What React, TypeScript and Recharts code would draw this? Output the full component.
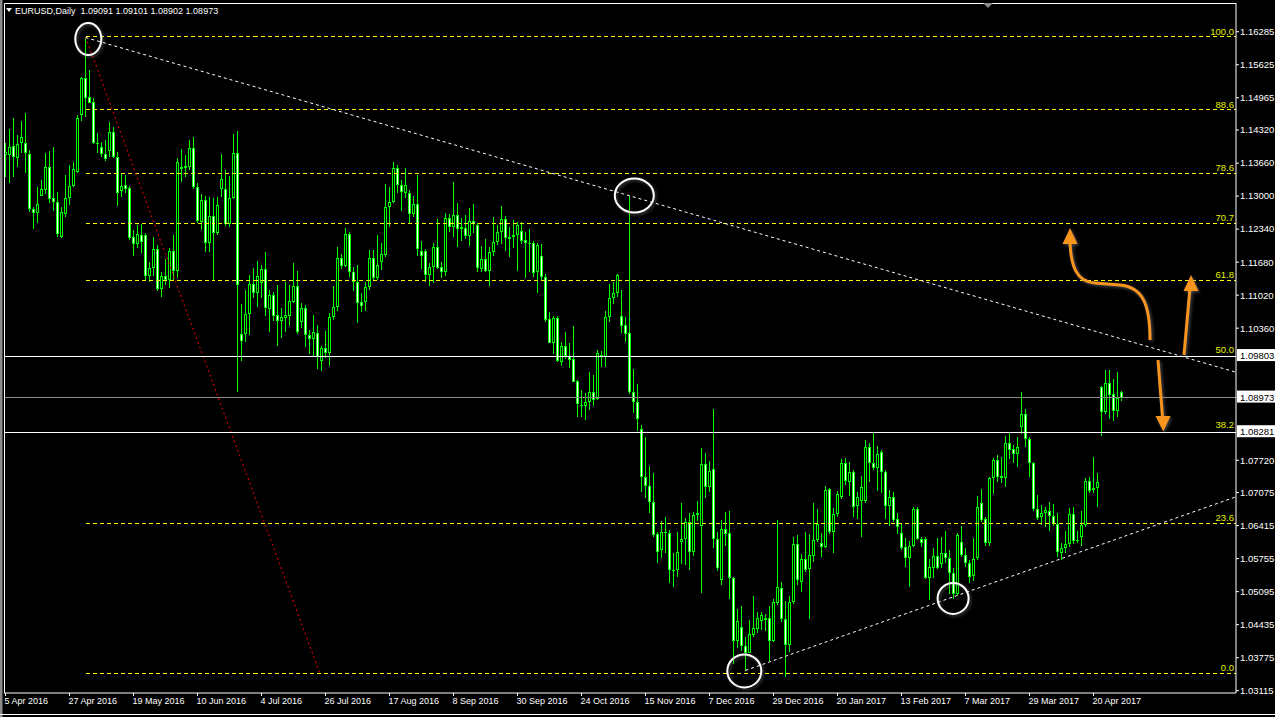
import React from 'react';
import { ComposedChart, Bar, XAxis, YAxis, ReferenceLine, ReferenceDot } from 'recharts';

// EURUSD daily bars, 5 Apr 2016 .. 1 May 2017 (bar index 1 = 5 Apr 2016)
const OPEN = [
  1.1383, 1.1383, 1.1400, 1.1377, 1.1406, 1.1406, 1.1384, 1.1274, 1.1266, 1.1301,
  1.1313, 1.1358, 1.1296, 1.1288, 1.1218, 1.1264, 1.1296, 1.1321, 1.1349, 1.1462,
  1.1536, 1.1498, 1.1488, 1.1406, 1.1399, 1.1384, 1.1390, 1.1428, 1.1379, 1.1311,
  1.1322, 1.1317, 1.1219, 1.1204, 1.1222, 1.1222, 1.1141, 1.1156, 1.1194, 1.1114,
  1.1140, 1.1132, 1.1190, 1.1151, 1.1358, 1.1356, 1.1359, 1.1396, 1.1318, 1.1249,
  1.1292, 1.1207, 1.1260, 1.1226, 1.1314, 1.1314, 1.1244, 1.1296, 1.1386, 1.1024,
  1.1024, 1.1064, 1.1124, 1.1107, 1.1126, 1.1154, 1.1074, 1.1102, 1.1062, 1.1051,
  1.1057, 1.1061, 1.1089, 1.1120, 1.1049, 1.1076, 1.1022, 1.1014, 1.1027, 1.0971,
  1.0996, 1.0986, 1.1058, 1.1078, 1.1176, 1.1161, 1.1224, 1.1149, 1.1129, 1.1088,
  1.1088, 1.1118, 1.1176, 1.1136, 1.1169, 1.1182, 1.1279, 1.1289, 1.1356, 1.1322,
  1.1306, 1.1306, 1.1264, 1.1284, 1.1190, 1.1190, 1.1142, 1.1159, 1.1198, 1.1158,
  1.1148, 1.1256, 1.1239, 1.1262, 1.1234, 1.1236, 1.1220, 1.1250, 1.1242, 1.1154,
  1.1174, 1.1151, 1.1189, 1.1208, 1.1229, 1.1254, 1.1218, 1.1218, 1.1222, 1.1230,
  1.1212, 1.1206, 1.1206, 1.1149, 1.1180, 1.1138, 1.1054, 1.1007, 1.1057, 1.0969,
  1.1000, 1.0981, 1.0974, 1.0930, 1.0882, 1.0881, 1.0888, 1.0908, 1.0894, 1.0982,
  1.0978, 1.1058, 1.1096, 1.1106, 1.1060, 1.1042, 1.1026, 1.0909, 1.0889, 1.0834,
  1.0738, 1.0721, 1.0689, 1.0624, 1.0592, 1.0628, 1.0626, 1.0552, 1.0552, 1.0608,
  1.0614, 1.0649, 1.0588, 1.0662, 1.0641, 1.0764, 1.0718, 1.0754, 1.0614, 1.0532,
  1.0634, 1.0626, 1.0536, 1.0411, 1.0438, 1.0401, 1.0387, 1.0422, 1.0434, 1.0451,
  1.0456, 1.0456, 1.0411, 1.0486, 1.0516, 1.0454, 1.0402, 1.0488, 1.0604, 1.0529,
  1.0574, 1.0554, 1.0580, 1.0612, 1.0606, 1.0599, 1.0714, 1.0629, 1.0664, 1.0699,
  1.0766, 1.0729, 1.0748, 1.0680, 1.0691, 1.0691, 1.0798, 1.0767, 1.0757, 1.0789,
  1.0749, 1.0681, 1.0698, 1.0654, 1.0627, 1.0599, 1.0576, 1.0600, 1.0674, 1.0614,
  1.0614, 1.0536, 1.0556, 1.0580, 1.0564, 1.0586, 1.0577, 1.0546, 1.0504, 1.0609,
  1.0582, 1.0566, 1.0540, 1.0576, 1.0686, 1.0654, 1.0607, 1.0736, 1.0772, 1.0736,
  1.0736, 1.0807, 1.0794, 1.0784, 1.0839, 1.0864, 1.0814, 1.0766, 1.0674, 1.0659,
  1.0667, 1.0671, 1.0661, 1.0644, 1.0587, 1.0596, 1.0604, 1.0664, 1.0612, 1.0619,
  1.0642, 1.0730, 1.0712, 1.0716, 1.0918, 1.0868, 1.0926, 1.0904, 1.0871, 1.09091,
];

const HIGH = [
  1.1406, 1.1434, 1.1456, 1.1422, 1.1450, 1.1466, 1.1392, 1.1279, 1.1319, 1.1332,
  1.1387, 1.1390, 1.1398, 1.1309, 1.1279, 1.1342, 1.1362, 1.1369, 1.1462, 1.1539,
  1.1616, 1.1552, 1.1496, 1.1426, 1.1409, 1.1412, 1.1449, 1.1438, 1.1389, 1.1346,
  1.1342, 1.1320, 1.1232, 1.1242, 1.1244, 1.1226, 1.1168, 1.1219, 1.1202, 1.1148,
  1.1174, 1.1196, 1.1222, 1.1376, 1.1394, 1.1382, 1.1412, 1.1419, 1.1326, 1.1304,
  1.1300, 1.1299, 1.1296, 1.1299, 1.1384, 1.1352, 1.1340, 1.1424, 1.1430, 1.1084,
  1.1112, 1.1142, 1.1156, 1.1170, 1.1162, 1.1189, 1.1112, 1.1109, 1.1122, 1.1076,
  1.1129, 1.1122, 1.1167, 1.1151, 1.1087, 1.1082, 1.1032, 1.1062, 1.1042, 1.1000,
  1.1030, 1.1066, 1.1120, 1.1199, 1.1184, 1.1236, 1.1229, 1.1159, 1.1162, 1.1106,
  1.1129, 1.1192, 1.1192, 1.1222, 1.1206, 1.1324, 1.1319, 1.1368, 1.1362, 1.1332,
  1.1356, 1.1312, 1.1300, 1.1342, 1.1211, 1.1194, 1.1167, 1.1206, 1.1254, 1.1169,
  1.1266, 1.1264, 1.1329, 1.1287, 1.1256, 1.1262, 1.1276, 1.1284, 1.1246, 1.1200,
  1.1214, 1.1199, 1.1259, 1.1242, 1.1280, 1.1260, 1.1239, 1.1252, 1.1249, 1.1248,
  1.1229, 1.1234, 1.1210, 1.1206, 1.1204, 1.1144, 1.1068, 1.1061, 1.1060, 1.1009,
  1.1028, 1.1006, 1.1040, 1.0932, 1.0912, 1.0906, 1.0948, 1.0942, 1.0992, 1.0991,
  1.1071, 1.1124, 1.1129, 1.1144, 1.1112, 1.1059, 1.1300, 1.0954, 1.0924, 1.0842,
  1.0819, 1.0760, 1.0747, 1.0629, 1.0651, 1.0658, 1.0632, 1.0586, 1.0628, 1.0687,
  1.0656, 1.0666, 1.0669, 1.0690, 1.0796, 1.0786, 1.0770, 1.0874, 1.0629, 1.0652,
  1.0669, 1.0670, 1.0539, 1.0474, 1.0480, 1.0418, 1.0452, 1.0500, 1.0468, 1.0468,
  1.0464, 1.0480, 1.0494, 1.0652, 1.0529, 1.0491, 1.0500, 1.0619, 1.0622, 1.0584,
  1.0629, 1.0624, 1.0687, 1.0674, 1.0626, 1.0720, 1.0717, 1.0676, 1.0711, 1.0774,
  1.0776, 1.0769, 1.0752, 1.0709, 1.0740, 1.0812, 1.0807, 1.0827, 1.0800, 1.0792,
  1.0752, 1.0712, 1.0709, 1.0667, 1.0646, 1.0616, 1.0610, 1.0679, 1.0678, 1.0619,
  1.0618, 1.0574, 1.0596, 1.0616, 1.0618, 1.0630, 1.0592, 1.0556, 1.0626, 1.0640,
  1.0596, 1.0572, 1.0616, 1.0700, 1.0714, 1.0659, 1.0739, 1.0776, 1.0782, 1.0778,
  1.0820, 1.0826, 1.0802, 1.0818, 1.0909, 1.0874, 1.0819, 1.0769, 1.0702, 1.0682,
  1.0679, 1.0689, 1.0684, 1.0666, 1.0606, 1.0630, 1.0676, 1.0679, 1.0630, 1.0670,
  1.0736, 1.0738, 1.0778, 1.0747, 1.0921, 1.0952, 1.0952, 1.0934, 1.0948, 1.09101,
];

const LOW = [
  1.1339, 1.1327, 1.1339, 1.1359, 1.1386, 1.1347, 1.1269, 1.1236, 1.1247, 1.1300,
  1.1306, 1.1286, 1.1270, 1.1219, 1.1217, 1.1259, 1.1282, 1.1319, 1.1346, 1.1452,
  1.1459, 1.1486, 1.1404, 1.1386, 1.1379, 1.1370, 1.1379, 1.1377, 1.1282, 1.1299,
  1.1306, 1.1212, 1.1181, 1.1197, 1.1187, 1.1132, 1.1129, 1.1142, 1.1110, 1.1098,
  1.1122, 1.1116, 1.1132, 1.1136, 1.1329, 1.1339, 1.1352, 1.1316, 1.1246, 1.1232,
  1.1189, 1.1189, 1.1132, 1.1224, 1.1299, 1.1240, 1.1238, 1.1294, 1.0909, 1.0971,
  1.1009, 1.1022, 1.1096, 1.1079, 1.1096, 1.1062, 1.1029, 1.1052, 1.1000, 1.1016,
  1.1029, 1.1041, 1.1087, 1.1026, 1.1037, 1.0999, 1.0984, 1.0979, 1.0954, 1.0951,
  1.0976, 1.0960, 1.1052, 1.1072, 1.1154, 1.1159, 1.1140, 1.1112, 1.1046, 1.1069,
  1.1072, 1.1112, 1.1132, 1.1132, 1.1152, 1.1179, 1.1240, 1.1286, 1.1306, 1.1270,
  1.1296, 1.1246, 1.1259, 1.1180, 1.1156, 1.1129, 1.1122, 1.1127, 1.1154, 1.1138,
  1.1140, 1.1229, 1.1220, 1.1199, 1.1211, 1.1214, 1.1200, 1.1226, 1.1149, 1.1149,
  1.1149, 1.1122, 1.1182, 1.1202, 1.1204, 1.1190, 1.1180, 1.1196, 1.1152, 1.1204,
  1.1137, 1.1149, 1.1139, 1.1106, 1.1132, 1.1049, 1.1006, 1.0986, 1.0969, 1.0962,
  1.0974, 1.0956, 1.0928, 1.0859, 1.0859, 1.0852, 1.0872, 1.0880, 1.0892, 1.0960,
  1.0959, 1.1049, 1.1086, 1.1099, 1.1027, 1.1009, 1.0905, 1.0866, 1.0831, 1.0709,
  1.0698, 1.0666, 1.0619, 1.0567, 1.0578, 1.0586, 1.0526, 1.0518, 1.0538, 1.0566,
  1.0563, 1.0552, 1.0582, 1.0650, 1.0506, 1.0696, 1.0709, 1.0596, 1.0552, 1.0522,
  1.0602, 1.0494, 1.0366, 1.0396, 1.0391, 1.0351, 1.0386, 1.0419, 1.0426, 1.0432,
  1.0431, 1.0371, 1.0409, 1.0482, 1.0449, 1.0339, 1.0389, 1.0486, 1.0522, 1.0509,
  1.0549, 1.0454, 1.0570, 1.0609, 1.0578, 1.0596, 1.0626, 1.0587, 1.0659, 1.0694,
  1.0722, 1.0702, 1.0658, 1.0656, 1.0619, 1.0687, 1.0729, 1.0754, 1.0710, 1.0706,
  1.0654, 1.0640, 1.0649, 1.0626, 1.0592, 1.0559, 1.0519, 1.0599, 1.0612, 1.0599,
  1.0534, 1.0492, 1.0536, 1.0554, 1.0556, 1.0566, 1.0504, 1.0494, 1.0502, 1.0579,
  1.0559, 1.0526, 1.0530, 1.0572, 1.0649, 1.0602, 1.0602, 1.0704, 1.0729, 1.0727,
  1.0718, 1.0774, 1.0766, 1.0759, 1.0826, 1.0798, 1.0739, 1.0671, 1.0652, 1.0642,
  1.0640, 1.0632, 1.0640, 1.0579, 1.0572, 1.0586, 1.0599, 1.0606, 1.0606, 1.0600,
  1.0639, 1.0707, 1.0707, 1.0680, 1.0821, 1.0865, 1.0854, 1.0851, 1.0858, 1.08902,
];

const CLOSE = [
  1.1388, 1.1398, 1.1379, 1.1404, 1.1418, 1.1386, 1.1274, 1.1266, 1.1284, 1.1314,
  1.1358, 1.1295, 1.1288, 1.1224, 1.1268, 1.1296, 1.1321, 1.1354, 1.1456, 1.1536,
  1.1497, 1.1487, 1.1406, 1.1404, 1.1384, 1.1374, 1.1428, 1.1379, 1.1306, 1.1320,
  1.1314, 1.1217, 1.1204, 1.1224, 1.1209, 1.1141, 1.1156, 1.1194, 1.1114, 1.1140,
  1.1132, 1.1190, 1.1150, 1.1368, 1.1354, 1.1360, 1.1396, 1.1318, 1.1251, 1.1292,
  1.1207, 1.1260, 1.1226, 1.1282, 1.1334, 1.1244, 1.1296, 1.1386, 1.1122, 1.1011,
  1.1064, 1.1124, 1.1107, 1.1140, 1.1154, 1.1076, 1.1102, 1.1061, 1.1051, 1.1058,
  1.1062, 1.1090, 1.1120, 1.1029, 1.1076, 1.1022, 1.1014, 1.1028, 1.0978, 1.0996,
  1.0986, 1.1058, 1.1078, 1.1176, 1.1161, 1.1224, 1.1149, 1.1129, 1.1086, 1.1081,
  1.1118, 1.1176, 1.1136, 1.1162, 1.1184, 1.1279, 1.1289, 1.1356, 1.1322, 1.1309,
  1.1322, 1.1264, 1.1284, 1.1194, 1.1181, 1.1142, 1.1159, 1.1198, 1.1156, 1.1148,
  1.1256, 1.1239, 1.1262, 1.1234, 1.1238, 1.1220, 1.1250, 1.1244, 1.1156, 1.1174,
  1.1151, 1.1189, 1.1208, 1.1228, 1.1254, 1.1216, 1.1214, 1.1222, 1.1242, 1.1211,
  1.1206, 1.1205, 1.1147, 1.1202, 1.1138, 1.1052, 1.1007, 1.1057, 1.0971, 1.1000,
  1.0981, 1.0972, 1.0929, 1.0884, 1.0881, 1.0888, 1.0908, 1.0892, 1.0986, 1.0979,
  1.1059, 1.1096, 1.1107, 1.1142, 1.1041, 1.1024, 1.0909, 1.0889, 1.0854, 1.0738,
  1.0721, 1.0689, 1.0622, 1.0588, 1.0628, 1.0626, 1.0552, 1.0551, 1.0588, 1.0614,
  1.0649, 1.0588, 1.0662, 1.0666, 1.0764, 1.0718, 1.0751, 1.0614, 1.0556, 1.0634,
  1.0624, 1.0536, 1.0411, 1.0450, 1.0401, 1.0387, 1.0424, 1.0436, 1.0456, 1.0462,
  1.0452, 1.0411, 1.0489, 1.0518, 1.0454, 1.0402, 1.0489, 1.0604, 1.0532, 1.0574,
  1.0552, 1.0582, 1.0612, 1.0644, 1.0599, 1.0712, 1.0628, 1.0664, 1.0704, 1.0766,
  1.0730, 1.0748, 1.0679, 1.0698, 1.0719, 1.0798, 1.0767, 1.0757, 1.0784, 1.0749,
  1.0681, 1.0698, 1.0652, 1.0639, 1.0597, 1.0576, 1.0600, 1.0674, 1.0614, 1.0607,
  1.0536, 1.0558, 1.0580, 1.0556, 1.0586, 1.0576, 1.0546, 1.0504, 1.0622, 1.0582,
  1.0566, 1.0539, 1.0575, 1.0678, 1.0652, 1.0607, 1.0736, 1.0772, 1.0738, 1.0740,
  1.0806, 1.0792, 1.0784, 1.0799, 1.0864, 1.0814, 1.0766, 1.0674, 1.0656, 1.0667,
  1.0672, 1.0661, 1.0644, 1.0589, 1.0596, 1.0604, 1.0664, 1.0611, 1.0611, 1.0642,
  1.0730, 1.0711, 1.0717, 1.0728, 1.0868, 1.0926, 1.0902, 1.0871, 1.0896, 1.08973,
];

// time axis: one label every 16 bars starting at bar 1
const DATE_LABELS = [
  '5 Apr 2016', '27 Apr 2016', '19 May 2016', '10 Jun 2016', '4 Jul 2016', '26 Jul 2016',
  '17 Aug 2016', '8 Sep 2016', '30 Sep 2016', '24 Oct 2016', '15 Nov 2016', '7 Dec 2016',
  '29 Dec 2016', '20 Jan 2017', '13 Feb 2017', '7 Mar 2017', '29 Mar 2017', '20 Apr 2017',
];

// price scale labels (the ones under the price tags are left out)
const PRICE_TICKS = [
  1.16285, 1.15625, 1.14965, 1.1432, 1.1366, 1.13, 1.1234, 1.1168, 1.1102, 1.1036,
  1.0772, 1.07075, 1.06415, 1.05755, 1.05095, 1.04435, 1.03775, 1.03115,
];

// fibonacci retracement from the May 2016 high to the Jan 2017 low
const FIB_HIGH = 1.1618;
const FIB_LOW = 1.0346;
const FIB_RATIOS = [1, 0.886, 0.786, 0.707, 0.618, 0.5, 0.382, 0.236, 0];
const FIB_START = 21;
const FIB_DIAG_END = 79.6;

// horizontal price lines with tags
const LEVELS = [1.09803, 1.08281];
const BID = 1.08973;
const HEADER = 'EURUSD,Daily  1.09091 1.09101 1.08902 1.08973';

const X_MIN = 0.625;
const X_MAX = 308.625;
const Y_MIN = 1.03069;
const Y_MAX = 1.16859;

const TREND_UPPER = [{ x: 21, y: 1.1617 }, { x: X_MAX, y: 1.0948 }];
const TREND_LOWER = [{ x: 186, y: 1.0352 }, { x: X_MAX, y: 1.0699 }];

const MARKS = [
  { x: 21.7, y: 1.1614, rx: 13, ry: 16 },
  { x: 158.2, y: 1.1301, rx: 19.5, ry: 17 },
  { x: 185.7, y: 1.0351, rx: 17, ry: 16.5 },
  { x: 237.9, y: 1.0496, rx: 15.5, ry: 15.5 },
];

const LIME = '#00ff00';
const YELLOW = '#ffff00';
const ORANGE = '#f7941d';
const FONT = '"Liberation Sans", Arial, sans-serif';

const bars = OPEN.map((o, k) => ({
  i: k + 1,
  range: [LOW[k], HIGH[k]],
  open: o,
  close: CLOSE[k],
}));

const Candle = (props: any) => {
  const { x, y, width, height, payload } = props;
  if (!payload) return null;
  const cx = Math.floor(x + width / 2) + 0.5;
  const [lo, hi] = payload.range;
  const top = Math.min(y, y + height);
  const h = Math.abs(height);
  const span = hi - lo || 1e-9;
  const py = (p: number) => top + ((hi - p) / span) * h;
  const bt = Math.round(py(Math.max(payload.open, payload.close)));
  const bb = Math.round(py(Math.min(payload.open, payload.close)));
  const bull = payload.close >= payload.open;
  const bh = Math.max(1, bb - bt);
  return (
    <g>
      <rect x={cx - 0.5} y={Math.round(top)} width={1} height={Math.max(1, Math.round(h))} fill={LIME} />
      <rect x={cx - 1.5} y={bt} width={3} height={bh} fill={LIME} />
      {bh > 2 && <rect x={cx - 0.5} y={bt + 1} width={1} height={bh - 2} fill={bull ? '#000' : '#fff'} />}
    </g>
  );
};

const DateTick = ({ x, y, payload }: any) => {
  const label = DATE_LABELS[Math.round((payload.value - 1) / 16)];
  return (
    <text x={x - 1} y={y + 8} fill="#fff" fontSize={9} fontFamily={FONT}>
      {label}
    </text>
  );
};

const fibLabel = (text: string) => (props: any) => {
  const vb = props.viewBox || {};
  return (
    <text x={vb.x + vb.width - 2} y={vb.y - 2} textAnchor="end" fill="#e6f000" fontSize={9.5} fontFamily={FONT}>
      {text}
    </text>
  );
};

const priceTag = (value: number) => (props: any) => {
  const vb = props.viewBox || {};
  const x0 = vb.x + vb.width + 1;
  return (
    <g>
      <rect x={x0} y={vb.y - 7} width={39} height={12} fill="#fff" />
      <text x={x0 + 3} y={vb.y + 3} fill="#000" fontSize={9.5} fontFamily={FONT}>
        {value.toFixed(5)}
      </text>
    </g>
  );
};

export default function App() {
  const dateTicks = DATE_LABELS.map((_, k) => 1 + 16 * k);
  return (
    <div style={{ position: 'fixed', left: 0, top: 0, width: 1275, height: 717, background: '#000' }}>
      <ComposedChart
        width={1275}
        height={717}
        data={bars}
        margin={{ top: 3, right: 0, bottom: 0, left: 4 }}
      >
        <XAxis
          dataKey="i"
          type="number"
          domain={[X_MIN, X_MAX]}
          ticks={dateTicks}
          tick={<DateTick />}
          height={24}
          stroke="#fff"
          tickSize={3}
          tickMargin={0}
          allowDataOverflow
        />
        <YAxis
          orientation="right"
          type="number"
          domain={[Y_MIN, Y_MAX]}
          ticks={PRICE_TICKS}
          tickFormatter={(v: number) => v.toFixed(5)}
          width={39}
          stroke="#fff"
          tick={{ fill: '#fff', fontSize: 9.5, fontFamily: FONT }}
          tickSize={3}
          tickMargin={1}
          allowDataOverflow
        />

        {FIB_RATIOS.map((r) => {
          const lvl = FIB_LOW + r * (FIB_HIGH - FIB_LOW);
          // 50.0 and 38.2 sit under the solid white price lines
          const covered = r === 0.5 || r === 0.382;
          return (
            <ReferenceLine
              key={r}
              segment={[{ x: FIB_START, y: lvl }, { x: X_MAX, y: lvl }]}
              stroke={covered ? 'none' : YELLOW}
              strokeDasharray="4 3"
              shapeRendering="crispEdges"
              label={fibLabel((r * 100).toFixed(1))}
            />
          );
        })}
        <ReferenceLine
          segment={[{ x: FIB_START, y: FIB_HIGH }, { x: FIB_DIAG_END, y: FIB_LOW }]}
          stroke="#ff0000"
          strokeDasharray="2 3"
        />
        <ReferenceLine segment={TREND_UPPER} stroke="#fff" strokeDasharray="3 3" />
        <ReferenceLine segment={TREND_LOWER} stroke="#fff" strokeDasharray="3 3" />

        {LEVELS.map((v) => (
          <ReferenceLine key={v} y={v} stroke="#fff" shapeRendering="crispEdges" label={priceTag(v)} />
        ))}
        <ReferenceLine y={BID} stroke="#8c8c8c" shapeRendering="crispEdges" label={priceTag(BID)} />

        <Bar dataKey="range" barSize={3} shape={(p: any) => <Candle {...p} />} isAnimationActive={false} />

        {MARKS.map((m, k) => (
          <ReferenceDot
            key={k}
            x={m.x}
            y={m.y}
            r={m.rx}
            shape={(p: any) => (
              <ellipse cx={p.cx} cy={p.cy} rx={m.rx} ry={m.ry} fill="none" stroke="#fff" strokeWidth={2} filter="url(#halo)" />
            )}
          />
        ))}
      </ComposedChart>

      <svg width={1275} height={717} style={{ position: 'absolute', left: 0, top: 0, pointerEvents: 'none' }}>
        <defs>
          <filter id="halo" x="-50%" y="-50%" width="200%" height="200%">
            <feDropShadow dx="1.5" dy="1.5" stdDeviation="1.5" floodColor="#9a9a9a" floodOpacity="0.45" />
          </filter>
        </defs>
        <rect x={0} y={0} width={2.5} height={717} fill="#8a8a8a" />
        <line x1={4.5} y1={3.5} x2={1236} y2={3.5} stroke="#fff" />
        <line x1={4.5} y1={3.5} x2={4.5} y2={693} stroke="#fff" />
        <line x1={0} y1={714.5} x2={1275} y2={714.5} stroke="#fff" />
        <polygon points="983,3 993,3 988,8" fill="#8a8a8a" />

        <polygon points="6,8 12,8 9,12" fill="#fff" />
        <text x={15} y={14} fill="#fff" fontSize={9} fontFamily={FONT} style={{ whiteSpace: 'pre' }}>
          {HEADER}
        </text>

        <g filter="url(#halo)">
          <path
            d="M1150,340 C1150,305 1143,287 1120,285 L1095,283 C1076,282 1071,265 1070,243"
            stroke={ORANGE}
            strokeWidth={3}
            fill="none"
          />
          <polygon points="1070,228 1062.5,244 1077.5,244" fill={ORANGE} />
          <line x1={1184} y1={355} x2={1189.8} y2={290} stroke={ORANGE} strokeWidth={3} />
          <polygon points="1191,275 1183.5,291 1198.5,291" fill={ORANGE} />
          <line x1={1158} y1={360} x2={1162.5} y2={417} stroke={ORANGE} strokeWidth={3} />
          <polygon points="1163.3,431.5 1155.5,416 1170.5,416" fill={ORANGE} />
        </g>
      </svg>
    </div>
  );
}
